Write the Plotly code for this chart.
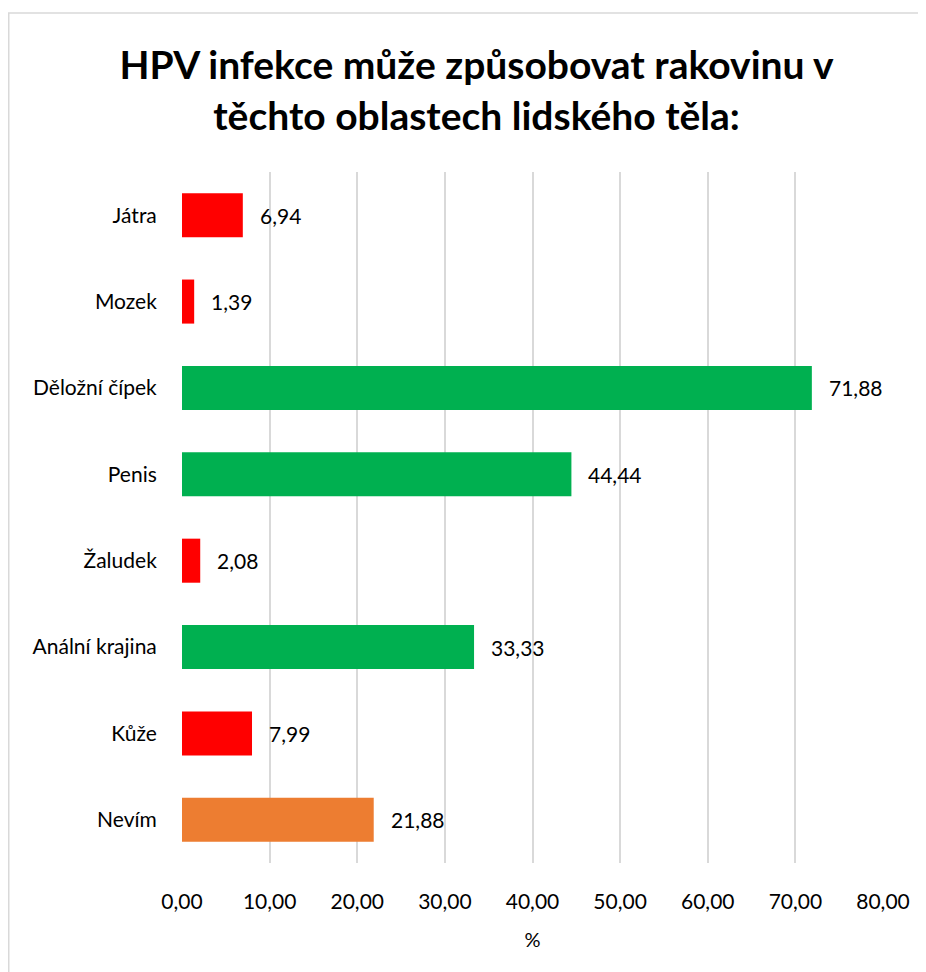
import plotly.graph_objects as go

categories = ["Játra", "Mozek", "Děložní čípek", "Penis", "Žaludek", "Anální krajina", "Kůže", "Nevím"]
values = [6.94, 1.39, 71.88, 44.44, 2.08, 33.33, 7.99, 21.88]
colors = ["#FF0000", "#FF0000", "#00B050", "#00B050", "#FF0000", "#00B050", "#FF0000", "#ED7D31"]
labels = ["6,94", "1,39", "71,88", "44,44", "2,08", "33,33", "7,99", "21,88"]
tick_vals = [0, 10, 20, 30, 40, 50, 60, 70, 80]
tick_text = ["0,00", "10,00", "20,00", "30,00", "40,00", "50,00", "60,00", "70,00", "80,00"]

FONT = "Lato"

fig = go.Figure()
fig.add_trace(go.Bar(
    y=categories, x=values, orientation="h",
    marker=dict(color=colors, line=dict(width=0)),
    width=0.51, hoverinfo="skip",
))

for c, v, t in zip(categories, values, labels):
    fig.add_annotation(x=v, y=c, text=t, showarrow=False, xanchor="left",
                       xshift=15, font=dict(family=FONT, size=21, color="#000000"))

fig.update_layout(
    width=926, height=972,
    margin=dict(l=174, r=51, t=164, b=117),
    paper_bgcolor="white", plot_bgcolor="white",
    showlegend=False,
    title=dict(text="<b>HPV infekce může způsobovat rakovinu v<br>těchto oblastech lidského těla:</b>",
               x=0.506, xanchor="center", y=0.927, yanchor="top",
               font=dict(family=FONT, size=39, color="#000000")),
    xaxis=dict(range=[0, 80], tickvals=tick_vals, ticktext=tick_text,
               showgrid=True, gridcolor="#D9D9D9", gridwidth=1.5,
               zeroline=False, showline=False, ticks="outside", ticklen=20,
               tickcolor="rgba(0,0,0,0)",
               tickfont=dict(family=FONT, size=21, color="#000000"),
               title=dict(text="%", font=dict(family=FONT, size=20, color="#000000"), standoff=20)),
    yaxis=dict(categoryorder="array", categoryarray=categories, autorange="reversed",
               showgrid=False, zeroline=False, showline=False, ticks="outside", ticklen=20,
               tickcolor="rgba(0,0,0,0)",
               tickfont=dict(family=FONT, size=21, color="#000000")),
    shapes=[dict(type="rect", xref="paper", yref="paper",
                 x0=(0.75 - 174) / 701, x1=1.2, y0=-0.3, y1=(972 - 5 - 117) / 691,
                 line=dict(color="#D9D9D9", width=1.5), fillcolor="rgba(0,0,0,0)", layer="below")],
)

fig.write_html("out.html")
